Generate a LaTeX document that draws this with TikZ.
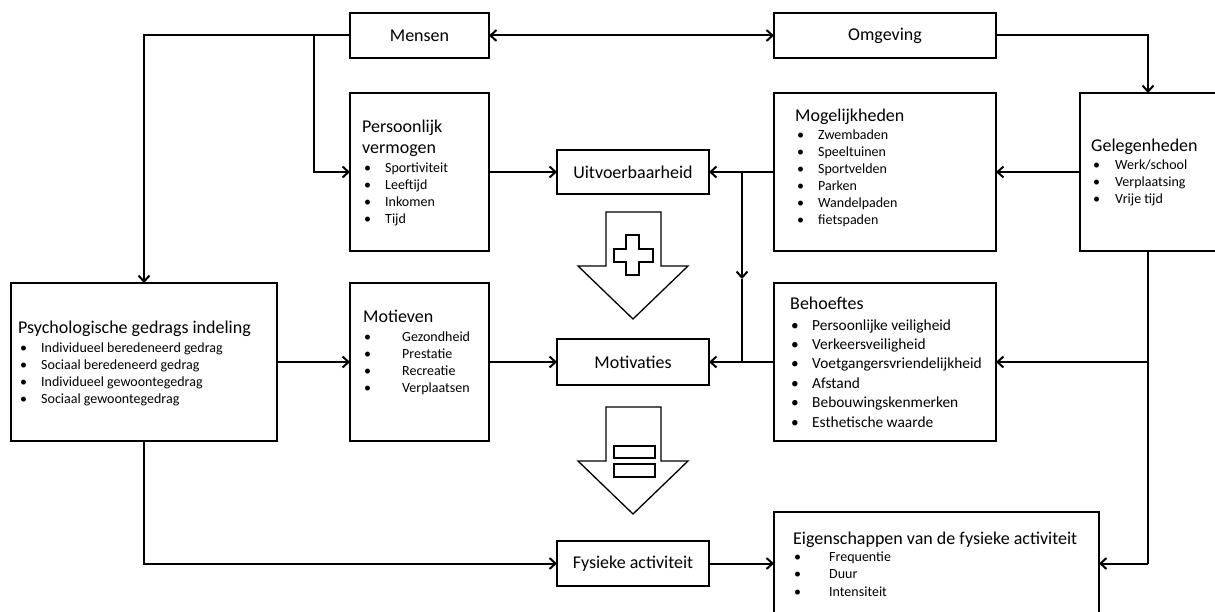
\documentclass[tikz,border=0pt]{standalone}
\usepackage{fontspec}
\setmainfont{Carlito}
\usetikzlibrary{arrows.meta}
\begin{document}
\begin{tikzpicture}[x=1pt,y=-1pt,
  box/.style={draw,line width=2pt,inner sep=0pt,outer sep=0pt,fill=white},
  lbl/.style={font=\fontsize{18}{21}\selectfont},
  head/.style={anchor=base west,inner sep=0pt,font=\fontsize{18}{21}\selectfont},
  item/.style={anchor=base west,inner sep=0pt,font=\fontsize{14}{16}\selectfont},
  bitem/.style={anchor=base west,inner sep=0pt,font=\fontsize{15.4}{17}\selectfont},
  conn/.style={line width=2pt},
  tip/.tip={Straight Barb[length=6pt,width=11pt,line width=2pt]},
  arr/.style={conn,-tip},
  blockarrow/.style={draw,line width=1.3pt,fill=white,line join=miter}]
\useasboundingbox (0,0) rectangle (1215,612);

% boxes
\node[box,minimum width=139pt,minimum height=45pt,lbl] (mensen) at (419.5,35.5) {Mensen};
\node[box,minimum width=222pt,minimum height=45pt,lbl] (omgeving) at (885,35.5) {Omgeving};
\node[box,minimum width=139pt,minimum height=158pt] (persoon) at (419.5,172) {};
\node[box,minimum width=152pt,minimum height=44pt,lbl] (uitv) at (633,172) {Uitvoerbaarheid};
\node[box,minimum width=222pt,minimum height=158pt] (mogelijk) at (885,172) {};
\node[box,minimum width=140pt,minimum height=158pt] (geleg) at (1150,172) {};
\node[box,minimum width=266pt,minimum height=158pt] (psych) at (144,362) {};
\node[box,minimum width=139pt,minimum height=158pt] (motieven) at (419.5,362) {};
\node[box,minimum width=152pt,minimum height=46pt,lbl] (motivaties) at (633,362) {Motivaties};
\node[box,minimum width=222pt,minimum height=158pt] (behoeftes) at (885,362) {};
\node[box,minimum width=152pt,minimum height=45pt,lbl] (fysiek) at (633,563.5) {Fysieke activiteit};
\node[box,minimum width=325pt,minimum height=113pt] (eigen) at (936.5,568.5) {};

% box contents
\node[head] (t1) at (362,133) {Persoonlijk};
\node[head] (t2) at (362,154) {vermogen};
\foreach \y/\t in {173/Sportiviteit,190/Leeftijd,207/Inkomen,224/Tijd}
  {\node[item] at (364,\y) {•}; \node[item] at (385,\y) {\t};}

\node[head] (t3) at (795,122) {Mogelijkheden};
\foreach \y/\t in {140/Zwembaden,157/Speeltuinen,174/Sportvelden,191/Parken,208/Wandelpaden,225/fietspaden}
  {\node[item] at (797,\y) {•}; \node[item] at (818,\y) {\t};}

\node[head] (t4) at (1091,152) {Gelegenheden};
\foreach \y/\t in {170/{Werk/school},187/Verplaatsing,204/Vrije tijd}
  {\node[item] at (1093,\y) {•}; \node[item] at (1115,\y) {\t};}

\node[head] (t5) at (18,333) {Psychologische gedrags indeling};
\foreach \y/\t in {352/Individueel beredeneerd gedrag,369/Sociaal beredeneerd gedrag,386/Individueel gewoontegedrag,403/Sociaal gewoontegedrag}
  {\node[item] at (20,\y) {•}; \node[item] at (41,\y) {\t};}

\node[head] (t6) at (363,323) {Motieven};
\foreach \y/\t in {341/Gezondheid,358/Prestatie,375/Recreatie,392/Verplaatsen}
  {\node[item] at (364,\y) {•}; \node[item] at (402,\y) {\t};}

\node[head] (t7) at (790,309) {Behoeftes};
\foreach \y/\t in {330/Persoonlijke veiligheid,349/Verkeersveiligheid,368/Voetgangersvriendelijkheid,388/Afstand,407/Bebouwingskenmerken,427/Esthetische waarde}
  {\node[bitem] at (791,\y) {•}; \node[bitem] at (812,\y) {\t};}

\node[head] (t8) at (793,544) {Eigenschappen van de fysieke activiteit};
\foreach \y/\t in {561/Frequentie,578/Duur,596/Intensiteit}
  {\node[item] at (794,\y) {•}; \node[item] at (829,\y) {\t};}

% block arrows
\draw[blockarrow] (606,212) -- (661,212) -- (661,266) -- (688,266) -- (633,319)
  -- (578,266) -- (606,266) -- cycle;
\draw[line width=1.3pt] (626,235) -- (639,235) -- (639,249) -- (653,249) -- (653,262)
  -- (639,262) -- (639,275) -- (626,275) -- (626,262) -- (614,262) -- (614,249)
  -- (626,249) -- cycle;
\draw[blockarrow] (606,407) -- (661,407) -- (661,461) -- (688,461) -- (633,514)
  -- (578,461) -- (606,461) -- cycle;
\draw[line width=1.3pt] (614,446) rectangle (655,458);
\draw[line width=1.3pt] (614,464) rectangle (655,477);

% routing points
\coordinate (split1) at (314,35.5);
\coordinate (gx) at (1148,0);
\coordinate (vx) at (742,0);
\coordinate (vmid) at (742,279);

% connectors
\draw[conn,tip-tip] (mensen.east) -- (omgeving.west);
\draw[arr] (mensen.west) -| (psych.north);
\draw[arr] (split1) |- (persoon.west);
\draw[arr] (persoon.east) -- (uitv.west);
\draw[arr] (omgeving.east) -| (gx |- geleg.north);
\draw[arr] (geleg.west) -- (mogelijk.east);
\draw[arr] (mogelijk.west) -- (uitv.east);
\draw[arr] (vx |- uitv.east) -- (vmid);
\draw[conn] (vmid) -- (vx |- motivaties.east);
\draw[arr] (psych.east) -- (motieven.west);
\draw[arr] (motieven.east) -- (motivaties.west);
\draw[arr] (behoeftes.west) -- (motivaties.east);
\draw[conn] (gx |- geleg.south) |- (fysiek.east -| gx);
\draw[arr] (gx |- behoeftes.east) -- (behoeftes.east);
\draw[arr] (fysiek.east -| gx) -- (fysiek.east -| eigen.east);
\draw[arr] (psych.south) |- (fysiek.west);
\draw[arr] (fysiek.east) -- (fysiek.east -| eigen.west);
\end{tikzpicture}
\end{document}
